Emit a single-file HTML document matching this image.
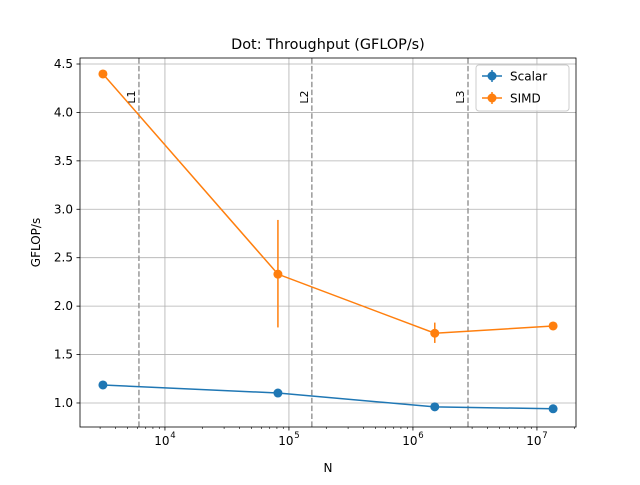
<!DOCTYPE html>
<html><head><meta charset="utf-8"><style>
body{margin:0;background:#fff;font-family:"Liberation Sans","DejaVu Sans",sans-serif}
svg text{font-family:"DejaVu Sans","Liberation Sans",sans-serif}
</style></head><body>
<svg id="chart" width="640" height="480" xmlns="http://www.w3.org/2000/svg">
<rect width="640" height="480" fill="#fff"/>
<g id="grid"></g><g id="vlines"></g><g id="series"></g><g id="axes"></g>
</svg>
<script>
const xN=[3162,81500,1500000,13500000];
const scalarVals=[1.186,1.103,0.96,0.94];
const scalarErr=[0.01,0.01,0.01,0.01];
const simdVals=[4.397,2.33,1.72,1.795];
const simdErrLo=[0.01,0.55,0.1,0.01];
const simdErrHi=[0.01,0.56,0.11,0.01];
const cacheX=[6170,153000,2780000];
const cacheLabels=["L1","L2","L3"];
const yTicks=[1.0,1.5,2.0,2.5,3.0,3.5,4.0,4.5];
const xTickExps=[4,5,6,7];

const L=80,R=576,T=58,B=427;
const xmin=3.315,xmax=7.315,ymin=0.752,ymax=4.562;
const X=v=>L+(Math.log10(v)-xmin)/(xmax-xmin)*(R-L);
const Y=v=>B-(v-ymin)/(ymax-ymin)*(B-T);
const NS="http://www.w3.org/2000/svg";
function mk(tag,attrs,parent,txt){const e=document.createElementNS(NS,tag);for(const k in attrs)e.setAttribute(k,attrs[k]);if(txt!==undefined)e.textContent=txt;document.getElementById(parent).appendChild(e);return e;}

// grid
yTicks.forEach(t=>{const e=mk('line',{x1:L,x2:R,y1:Y(t),y2:Y(t),stroke:'#b0b0b0','stroke-width':0.8},'grid');

});
xTickExps.forEach(p=>{const x=X(Math.pow(10,p));const e=mk('line',{x1:x,x2:x,y1:T,y2:B,stroke:'#b0b0b0','stroke-width':0.8},'grid');

});

// cache lines
cacheX.forEach((v,i)=>{const x=X(v);
const l=mk('line',{x1:x,x2:x,y1:T,y2:B,stroke:'#999','stroke-width':1.5,'stroke-dasharray':'5.5,2.4'},'vlines');


const t=mk('text',{x:x-4,y:97,'font-size':11,'text-anchor':'middle',transform:`rotate(-90 ${x-4} 97)`},'vlines',cacheLabels[i]);

});

function series(vals,lo,hi,color,name){
const pts=xN.map((x,i)=>X(x)+','+Y(vals[i])).join(' ');
const pl=mk('polyline',{points:pts,fill:'none',stroke:color,'stroke-width':1.5},'series');


xN.forEach((x,i)=>{
const eb=mk('line',{x1:X(x),x2:X(x),y1:Y(vals[i]-lo[i]),y2:Y(vals[i]+hi[i]),stroke:color,'stroke-width':1.5},'series');


const c=mk('circle',{cx:X(x),cy:Y(vals[i]),r:4.5,fill:color},'series');

});}
series(scalarVals,scalarErr,scalarErr,'#1f77b4','scalar');
series(simdVals,simdErrLo,simdErrHi,'#ff7f0e','simd');

// axes frame
const fr=mk('rect',{x:L,y:T,width:R-L,height:B-T,fill:'none',stroke:'#000','stroke-width':0.8},'axes');


yTicks.forEach(t=>{mk('line',{x1:L-3.5,x2:L,y1:Y(t),y2:Y(t),stroke:'#000','stroke-width':0.8},'axes');
const e=mk('text',{x:L-7,y:Y(t)+4,'font-size':12,'text-anchor':'end'},'axes',t.toFixed(1));

});
for(let p=3;p<=7;p++)for(let m=1;m<10;m++){const v=m*Math.pow(10,p);const lv=Math.log10(v);if(lv<xmin||lv>xmax)continue;const x=X(v);
mk('line',{x1:x,x2:x,y1:B,y2:B+(m===1?3.5:2),stroke:'#000','stroke-width':m===1?0.8:0.6},'axes');}
xTickExps.forEach(p=>{const x=X(Math.pow(10,p));
const e=mk('text',{x:x-3,y:B+18,'font-size':12,'text-anchor':'middle'},'axes','10');


mk('text',{x:x+8,y:B+11,'font-size':8.5,'text-anchor':'middle'},'axes',String(p));});
const xt=mk('text',{x:(L+R)/2,y:472,'font-size':12,'text-anchor':'middle'},'axes','N');


const yt=mk('text',{x:40,y:(T+B)/2,'font-size':12,'text-anchor':'middle',transform:`rotate(-90 40 ${(T+B)/2})`},'axes','GFLOP/s');


const tt=mk('text',{x:(L+R)/2,y:49,'font-size':14.4,'text-anchor':'middle'},'axes','Dot: Throughput (GFLOP/s)');



// legend
const lg=mk('rect',{x:476,y:65,width:93,height:46,rx:3,fill:'#fff','fill-opacity':0.8,stroke:'#ccc'},'axes');


[['Scalar','#1f77b4',76],['SIMD','#ff7f0e',98]].forEach(([n,c,y])=>{
mk('line',{x1:482,x2:502,y1:y,y2:y,stroke:c,'stroke-width':1.5},'axes');
mk('line',{x1:492,x2:492,y1:y-6,y2:y+6,stroke:c,'stroke-width':1.5},'axes');
mk('circle',{cx:492,cy:y,r:4.5,fill:c},'axes');
const e=mk('text',{x:510,y:y+4.5,'font-size':12},'axes',n);

});
</script>
</body></html>
